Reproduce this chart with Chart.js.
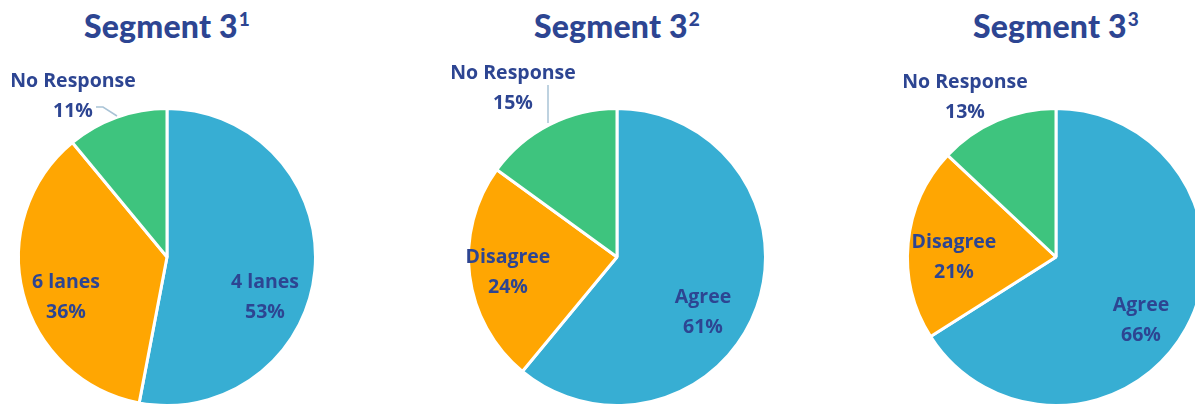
<!DOCTYPE html>
<html>
<head>
<meta charset="utf-8">
<script src="https://cdn.jsdelivr.net/npm/chart.js@4"></script>
<style>
  html, body { margin:0; padding:0; background:#fff; }
  body { width:1195px; height:404px; overflow:hidden; position:relative; font-family:Lato, sans-serif; }
  .title { position:absolute; top:6px; width:300px; text-align:center; font-weight:900; font-size:32px; color:#2d4592; letter-spacing:0.2px; }
  .title sup { font-size:19px; position:relative; top:0px; margin-left:1px; }
  .pie { position:absolute; top:0; width:400px; height:420px; }
</style>
</head>
<body>
<div class="title" style="left:17px">Segment 3<sup>1</sup></div>
<div class="title" style="left:467px">Segment 3<sup>2</sup></div>
<div class="title" style="left:906px">Segment 3<sup>3</sup></div>
<div class="pie" style="left:-33px"><canvas id="pie1"></canvas></div>
<div class="pie" style="left:417px"><canvas id="pie2"></canvas></div>
<div class="pie" style="left:856px"><canvas id="pie3"></canvas></div>
<script>
// Segment 3 survey results
const seg1Labels = ['4 lanes', '6 lanes', 'No Response'];
const seg1Values = [53, 36, 11];
const seg2Labels = ['Agree', 'Disagree', 'No Response'];
const seg2Values = [61, 24, 15];
const seg3Labels = ['Agree', 'Disagree', 'No Response'];
const seg3Values = [66, 21, 13];

const sliceColors = ['#37aed3', '#ffa602', '#3ec47e'];
const textColor = '#2d4592';

// label block offsets from pie center, and leader lines
const seg1Pos = [[98, 40], [-101, 40], [-94, -161]];
const seg2Pos = [[86, 55], [-109, 15], [-104, -169]];
const seg3Pos = [[85, 63], [-102, 0], [-91, -160]];
const seg1Leader = [[-71, -150], [-64, -150], [-50, -141]];
const seg2Leader = [[-69, -172], [-69, -134]];

const sliceLabels = {
  id: 'sliceLabels',
  afterDatasetsDraw(chart, args, opts) {
    const ctx = chart.ctx;
    const arc = chart.getDatasetMeta(0).data[0];
    const cx = arc.x, cy = arc.y;
    ctx.save();
    if (opts.leader) {
      ctx.strokeStyle = '#a9c3d6';
      ctx.lineWidth = 1.5;
      ctx.beginPath();
      opts.leader.forEach((p, i) => i ? ctx.lineTo(cx + p[0], cy + p[1]) : ctx.moveTo(cx + p[0], cy + p[1]));
      ctx.stroke();
    }
    ctx.fillStyle = textColor;
    ctx.font = 'bold 19.5px "Open Sans"';
    ctx.textAlign = 'center';
    ctx.textBaseline = 'middle';
    const values = chart.data.datasets[0].data;
    chart.data.labels.forEach((lab, i) => {
      const [dx, dy] = opts.pos[i];
      ctx.fillText(lab, cx + dx, cy + dy - 15);
      ctx.fillText(values[i] + '%', cx + dx, cy + dy + 15);
    });
    ctx.restore();
  }
};

function makePie(id, labels, values, pos, leader) {
  return new Chart(document.getElementById(id), {
    type: 'pie',
    data: {
      labels: labels,
      datasets: [{ data: values, backgroundColor: sliceColors, borderColor: '#fff', borderWidth: 3 }]
    },
    options: {
      responsive: true, maintainAspectRatio: false, animation: false,
      layout: { padding: { top: 107, bottom: 13, left: 50, right: 50 } },
      plugins: { legend: { display: false }, tooltip: { enabled: false }, sliceLabels: { pos: pos, leader: leader } }
    },
    plugins: [sliceLabels]
  });
}

makePie('pie1', seg1Labels, seg1Values, seg1Pos, seg1Leader);
makePie('pie2', seg2Labels, seg2Values, seg2Pos, seg2Leader);
makePie('pie3', seg3Labels, seg3Values, seg3Pos, null);
</script>
</body>
</html>
